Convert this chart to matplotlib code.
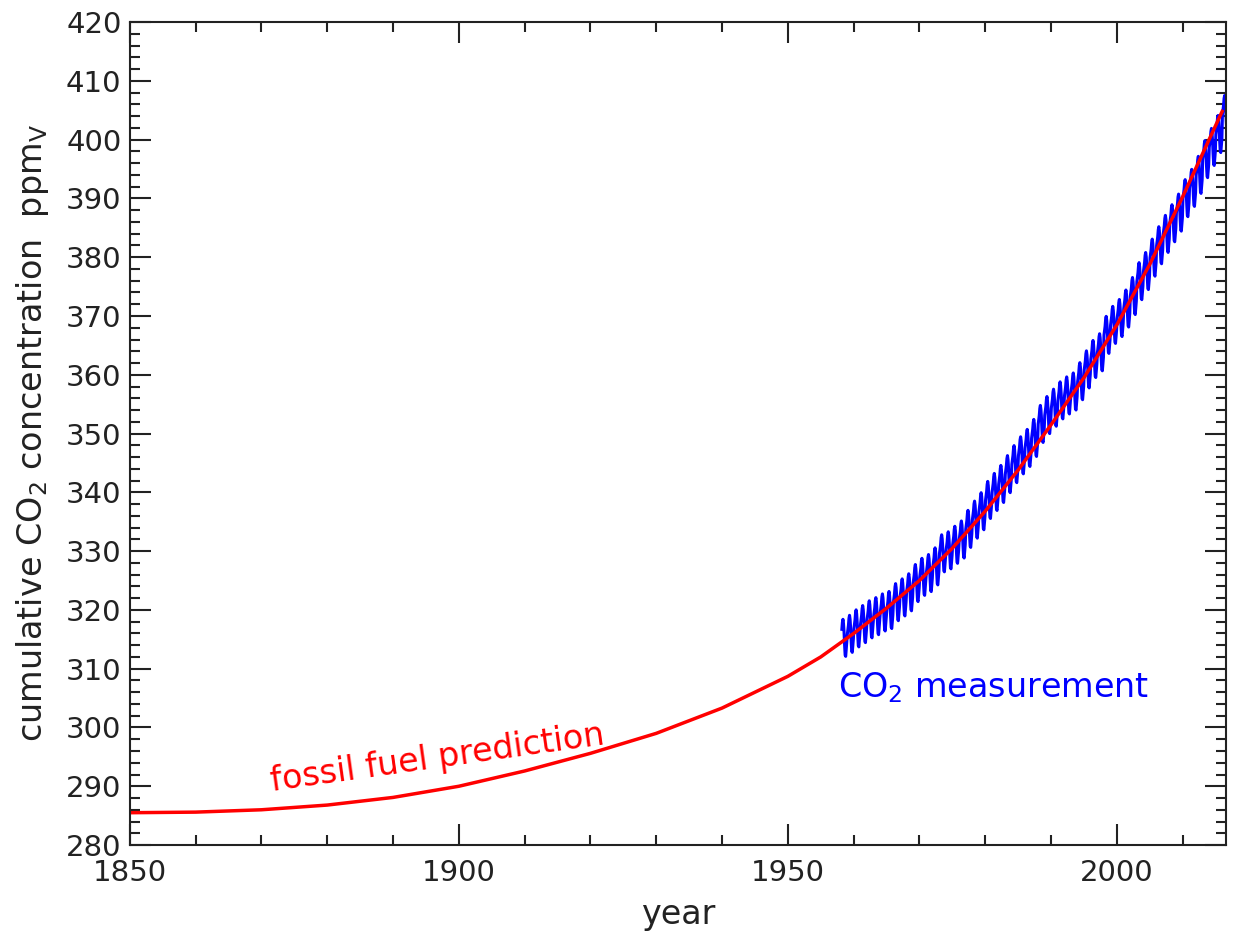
"""
Cumulative CO2 concentration: fossil fuel prediction vs Mauna Loa measurement
"""
import matplotlib
matplotlib.use('Agg')
import matplotlib.pyplot as plt
from matplotlib.ticker import MultipleLocator
import numpy as np

plt.rcParams['font.family'] = ['DejaVu Sans']
plt.rcParams['font.size'] = 21

# fossil fuel prediction (ppm)
pred_years = [1850, 1860, 1870, 1880, 1890, 1900, 1910, 1920, 1930, 1940, 1950,
              1955, 1960, 1965, 1970, 1975, 1980, 1985, 1990, 1995, 2000, 2005, 2010, 2016]
pred_ppm = [285.5, 285.6, 286.0, 286.8, 288.1, 290.0, 292.6, 295.6, 299.0, 303.3, 308.7,
            312.0, 316.0, 320.3, 325.0, 330.5, 336.8, 343.8, 351.5, 359.5, 368.5, 378.8, 390.3, 404.8]

# measured annual means (ppm), 1958-2016
meas_years = list(range(1958, 2017))
meas_annual = [315.3, 315.98, 316.91, 317.64, 318.45, 318.99, 319.62, 320.04, 321.37, 322.18,
               323.05, 324.62, 325.68, 326.32, 327.46, 329.68, 330.19, 331.13, 332.03, 333.84,
               335.41, 336.84, 338.76, 340.12, 341.48, 343.15, 344.85, 346.35, 347.61, 349.31,
               351.69, 353.20, 354.45, 355.70, 356.54, 357.21, 358.96, 360.97, 362.74, 363.88,
               366.84, 368.54, 369.71, 371.32, 373.45, 375.98, 377.70, 379.98, 382.09, 384.02,
               385.83, 387.64, 390.10, 391.85, 394.06, 396.74, 398.81, 401.01, 404.41]
# seasonal offset per month (ppm), Jan..Dec
seasonal = [-0.1, 0.6, 1.4, 2.6, 3.1, 2.4, 0.9, -1.3, -3.0, -3.2, -2.0, -0.9]

t_meas, co2_meas = [], []
for yr, mean in zip(meas_years, meas_annual):
    for m, off in enumerate(seasonal):
        if yr == 1958 and m < 2:
            continue
        t_meas.append(yr + (m + 0.5) / 12)
        co2_meas.append(mean + off)

fig = plt.figure(figsize=(12.36, 9.32), dpi=100)
ax = fig.add_axes([0.105, 0.0933, 0.887, 0.883])

ax.plot(t_meas, co2_meas, color='blue', lw=2.2)
ax.plot(pred_years, pred_ppm, color='red', lw=2.5)

ax.set_xlim(1850, 2016.6)
ax.set_ylim(280, 420)
ax.xaxis.set_major_locator(MultipleLocator(50))
ax.xaxis.set_minor_locator(MultipleLocator(10))
ax.yaxis.set_major_locator(MultipleLocator(10))
ax.yaxis.set_minor_locator(MultipleLocator(2))
ax.tick_params(which='both', direction='in', top=True, right=True, width=1.5,
               colors='#222222')
ax.tick_params(which='major', length=15, labelsize=21, pad=6)
ax.tick_params(axis='x', which='major', pad=10)
ax.tick_params(which='minor', length=7)
for s in ax.spines.values():
    s.set_linewidth(1.5)
    s.set_color('#222222')

ax.set_xlabel('year', fontsize=24, color='#222222', labelpad=8)
ax.set_ylabel(r'cumulative CO$_2$ concentration  ppm$_\mathrm{V}$', fontsize=24,
              color='#222222')
ax.yaxis.set_label_coords(-0.072, 0.5)

ax.text(1896.7, 294.8, 'fossil fuel prediction', color='red', fontsize=24,
        rotation=8, ha='center', va='center')
ax.text(1957.6, 306.7, r'CO$_2$ measurement', color='blue', fontsize=24,
        ha='left', va='center')

fig.savefig('out.png', dpi=100, facecolor='white')
